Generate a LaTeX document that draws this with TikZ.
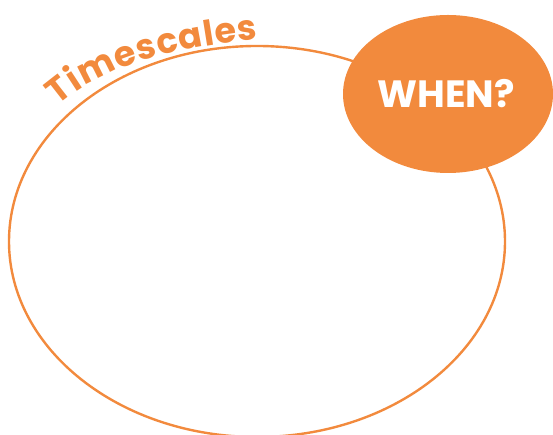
\documentclass[tikz,border=0pt]{standalone}
\usepackage{fontspec}
\newfontfamily\popfont{Poppins}
\usetikzlibrary{decorations.text}
\definecolor{tsorange}{HTML}{F28A3D}
\tikzset{
  outline/.style={draw=tsorange, line width=2.4pt},
  blob/.style={fill=tsorange, draw=none},
}
\begin{document}
\begin{tikzpicture}[x=1pt,y=1pt]
\useasboundingbox (0,0) rectangle (553,435);
\draw[outline] (257,193.5) ellipse [x radius=248, y radius=195.5];
\fill[blob] (448,341) ellipse [x radius=105, y radius=79];
\node[text=white, font=\popfont\bfseries\fontsize{38}{42}\selectfont, inner sep=0pt] (when) at (446,341) {WHEN?};
\path[decorate, decoration={text along path,
   text={|\popfont\bfseries\fontsize{35}{40}\selectfont|Timescales},
   text color=tsorange, text align=fit to path}]
   (58,329) .. controls (112,376) and (186,387) .. (258,396);
\end{tikzpicture}
\end{document}
